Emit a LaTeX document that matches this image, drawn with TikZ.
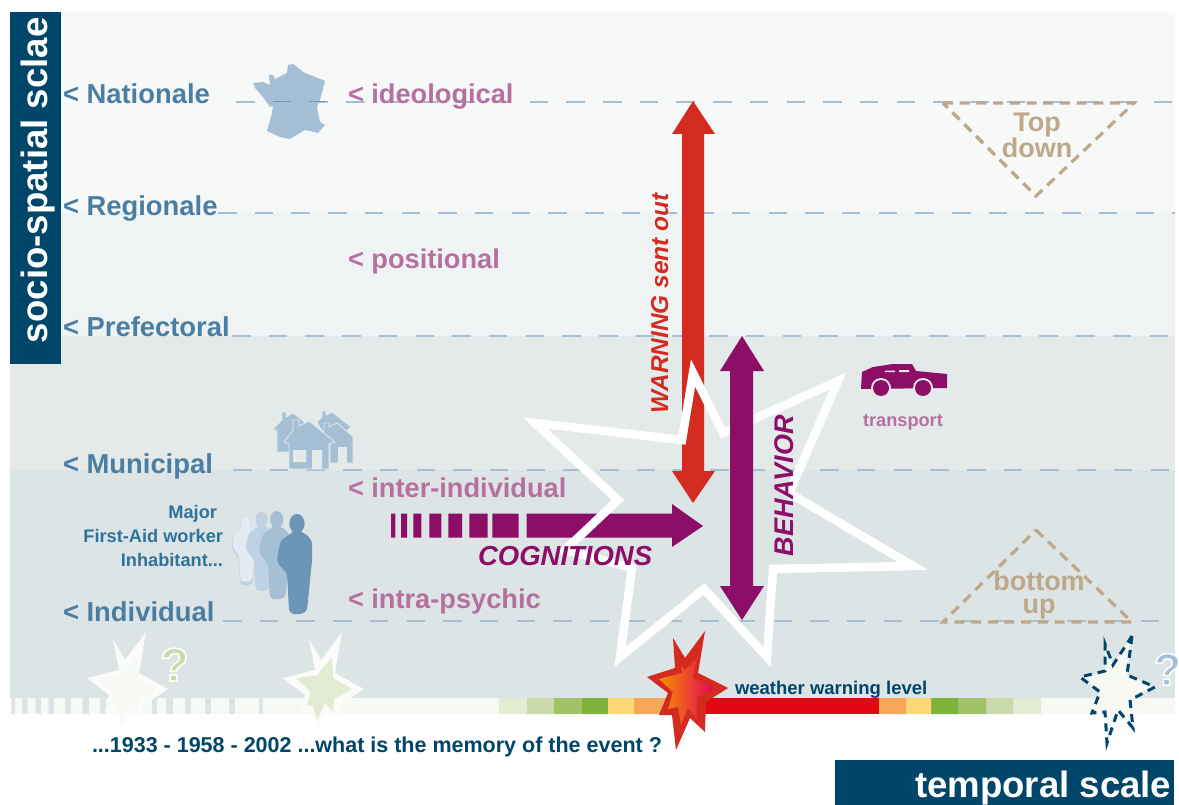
\documentclass[tikz,border=0pt]{standalone}
\usepackage{fontspec}
\setmainfont{Liberation Sans}
\definecolor{navy}{HTML}{00466B}
\definecolor{bandA}{HTML}{F7F9F8}
\definecolor{bandB}{HTML}{EFF3F3}
\definecolor{bandC}{HTML}{E4EAEA}
\definecolor{bandD}{HTML}{DDE4E6}
\definecolor{barbase}{HTML}{F7F9F4}
\definecolor{lblue}{HTML}{A5BFD5}
\definecolor{sblue}{HTML}{4A7FA3}
\definecolor{mblue}{HTML}{2E7399}
\definecolor{dperson}{HTML}{6B96B7}
\definecolor{mperson}{HTML}{BFD2E3}
\definecolor{pperson}{HTML}{E3EBF3}
\definecolor{pink}{HTML}{B5709F}
\definecolor{plum}{HTML}{8C0E67}
\definecolor{warnred}{HTML}{D32B20}
\definecolor{tan}{HTML}{BDA98A}
\definecolor{gA}{HTML}{E3EBD3}
\definecolor{gB}{HTML}{CBDAAB}
\definecolor{gC}{HTML}{A2C269}
\definecolor{gD}{HTML}{7FB23A}
\definecolor{yel}{HTML}{FDD775}
\definecolor{ora}{HTML}{F6A858}
\definecolor{redbar}{HTML}{E30613}
\definecolor{hotA}{HTML}{F39200}
\definecolor{hotC}{HTML}{E5005B}
\definecolor{burstA}{HTML}{FBFCFA}
\tikzset{
  x=1pt,y=-1pt,
  txt/.style={inner sep=0pt,outer sep=0pt,anchor=base west},
  scalelabel/.style={txt,text=sblue,font=\bfseries\fontsize{27.4}{27.4}\selectfont},
  levellabel/.style={txt,text=pink,font=\bfseries\fontsize{27.2}{27.2}\selectfont},
  rolelabel/.style={txt,anchor=base east,text=mblue,font=\bfseries\fontsize{18.2}{18.2}\selectfont},
  guide/.style={draw=lblue,line width=1.05pt,dash pattern=on 18.5pt off 18.2pt},
  tri/.style={draw=tan,line width=3.2pt,dash pattern=on 10pt off 6.7pt,line join=miter},
  trilabel/.style={txt,align=center,anchor=center,text=tan,font=\bfseries\fontsize{27}{23}\selectfont},
  burst/.style={draw=white,line width=8.5pt,line join=miter,miter limit=12},
  house/.style={fill=lblue,draw=bandC,line width=.8pt,line join=miter},
  axislabel/.style={txt,text=white,font=\bfseries\fontsize{36.6}{36.6}\selectfont},
  axisbox/.style={fill=navy},
  arrowlabel/.style={txt,font=\bfseries\itshape\fontsize{27}{27}\selectfont},
}
\newcommand{\personpath}{(-20,33.5) -- (-16,17) -- (-6,10) -- (-3.5,7) -- (3.5,7) -- (6,10) -- (10,11) -- (15,18) -- (15,37) -- (10,87) -- (5,90.5) -- (-5,90.5) -- (-8,87) -- (-10,50) -- (-19,40) -- cycle}
\newcommand{\person}[4]{%
  \begin{scope}[shift={(#1,#2)},xscale=#3,yscale=#3]
    \fill[#4,rounded corners=2.5pt] \personpath;
    \fill[#4] (0,0) ellipse[x radius=7.6,y radius=9.6];
  \end{scope}}
\newcommand{\smallburst}{(342,632) -- (335,673) -- (364,689) -- (340,705) -- (338,720) -- (327,712) -- (317,727) -- (314,713) -- (301,712) -- (305,695) -- (283,678) -- (315,670) -- (309,639) -- (321,660) -- cycle}
\newcommand{\smallcore}{(332,657) -- (333,678) -- (352,689) -- (334,699) -- (333,712) -- (325,703) -- (317,720) -- (313,706) -- (307,705) -- (311,692) -- (296,678) -- (318,675) -- (321,670) -- cycle}
\newcommand{\outlined}[2]{\special{pdf:code q 2 Tr #1 w 1 1 1 RG}#2\special{pdf:code Q}}
\begin{document}
\begin{tikzpicture}
\useasboundingbox (0,0) rectangle (1179,805);
\fill[white] (0,0) rectangle (1179,805);
% bands
\fill[bandA] (10,12) rectangle (1175,213);
\fill[bandB] (10,213) rectangle (1175,336);
\fill[bandC] (10,336) rectangle (1175,470);
\fill[bandD] (10,470) rectangle (1175,714);
% temporal bar
\fill[barbase] (10,698) rectangle (11.5,714) (15,698) rectangle (22,714) (27.5,698) rectangle (35.6,714) (41,698) rectangle (48.6,714) (54,698) rectangle (65,714) (71,698) rectangle (82.7,714) (89,698) rectangle (100,714) (106,698) rectangle (118,714) (124,698) rectangle (137,714) (143,698) rectangle (152,714) (157,698) rectangle (166,714) (173,698) rectangle (185,714) (191,698) rectangle (205,714) (211,698) rectangle (229,714) (235,698) rectangle (259,714) (262.5,698) rectangle (499,714) (1041,698) rectangle (1175,714);
\fill[gA] (499,698) rectangle (527,714) (1013,698) rectangle (1041,714);
\fill[gB] (527,698) rectangle (554,714) (986,698) rectangle (1013,714);
\fill[gC] (554,698) rectangle (582,714) (958,698) rectangle (986,714);
\fill[gD] (582,698) rectangle (608,714) (931,698) rectangle (958,714);
\fill[yel] (608,698) rectangle (634,714) (906,698) rectangle (931,714);
\fill[ora] (634,698) rectangle (670,714) (879,698) rectangle (906,714);
\fill[redbar] (670,698) rectangle (879,714);
% guides
\draw[guide] (236,102) -- (1175,102);
\draw[guide] (218,213) -- (1175,213);
\draw[guide] (232,336) -- (1175,336);
\draw[guide] (233,470) -- (1175,470);
\draw[guide] (223,621) -- (1175,621);
% France
\fill[lblue] (253,83) -- (263,82) -- (270,85) -- (269,75) -- (273,75) -- (275,79) -- (287,73) -- (288,65) -- (293,64) -- (305,73) -- (313,76) -- (325,81) -- (320,100) -- (317,107) -- (320,122) -- (325,125) -- (318,133) -- (305,130) -- (290,139) -- (280,137) -- (267,131) -- (272,113) -- (273,106) -- (270,107) -- (263,97) -- (255,88) -- cycle;
\draw[dperson,line width=1pt] (273,102) -- (291,102) (309,102) -- (325,102);
% houses
\path[house] (282,420) -- (282,412) -- (286,412) -- (286,417) -- (293,413) -- (313,429) -- (310,452) -- (277,452) -- (277,431) -- (273,429) -- cycle;
\path[house] (322,417) -- (322,411) -- (326,411) -- (326,415) -- (332,412) -- (351,427) -- (345,432) -- (330,445) -- (317,422) -- cycle;
\path[house] (324,430) -- (324,423) -- (329,423) -- (329,427) -- (337,423) -- (357,440) -- (353,438) -- (353,463) -- (330,463) -- (330,440) -- (323,434) -- cycle;
\fill[bandC] (338,447) rectangle (347,463);
\path[house] (293,430) -- (293,420) -- (299,420) -- (299,426) -- (309,421) -- (335,442) -- (329,444) -- (329,469) -- (289,469) -- (289,444) -- (284,442) -- cycle;
\fill[bandC] (293,450) rectangle (306,462) (312,450) rectangle (322,469);
% people
\person{245.7}{522}{.70}{mperson}
\person{245.7}{522}{.66}{pperson}
\person{261.7}{519.5}{.79}{mperson}
\person{276.7}{519.5}{.88}{lblue}
\person{297}{523.5}{1}{dperson}
% red arrow (below the big burst)
\fill[warnred] (693,101) -- (715,134) -- (704,134) -- (704,471) -- (715,471) -- (693,503) -- (672,471) -- (682,471) -- (682,134) -- (672,134) -- cycle;
% cognitions arrow
\fill[plum] (391,513.5) rectangle (395.3,537.5) (401,513.5) rectangle (407,537.5) (413.3,513.5) rectangle (421.3,537.5) (429.3,513.5) rectangle (441.3,537.5) (448.3,513.5) rectangle (462,537.5) (469.3,513.5) rectangle (487.7,537.5) (492.3,513.5) rectangle (518.7,537.5);
\fill[plum] (526.7,513.5) -- (672,513.5) -- (672,504) -- (703,526) -- (672,547) -- (672,537.5) -- (526.7,537.5) -- cycle;
% big burst
\path[burst] (693,373) -- (723,433) -- (838,381) -- (789,493) -- (913,566) -- (773,569) -- (767,657) -- (704,589) -- (620,657) -- (632,568) -- (565,550) -- (618,500) -- (535,423) -- (682,440) -- cycle;
% behaviour arrow
\fill[plum] (742,336) -- (764,371) -- (753,371) -- (753,586) -- (764,586) -- (742,620) -- (720,586) -- (730,586) -- (730,371) -- (720,371) -- cycle;
% triangles
\path[tri] (943,103) -- (1134,103) -- (1036,196) -- cycle;
\path[tri] (1036,530) -- (1132,622) -- (943,622) -- cycle;
% small bursts
\fill[burstA] [shift={(-196,0)}] \smallburst;
\fill[barbase] [shift={(-196,0)}] \smallcore;
\fill[burstA] \smallburst;
\fill[gA] \smallcore;
% red burst
\fill[warnred] (647,677) -- (675,668) -- (673,638) -- (685,658) -- (705,631) -- (698,673) -- (728,688) -- (706,702) -- (705,732) -- (690,718) -- (676,750) -- (672,715) -- (659,715) -- (668,693) -- cycle;
\shade[left color=hotA,middle color=redbar,right color=hotC] (659,679) -- (682,673) -- (681,666) -- (685,670) -- (697,658) -- (693,678) -- (715,688) -- (697,697) -- (697,720) -- (688,708) -- (681,725) -- (678,707) -- (668,709) -- (673,692) -- cycle;
% dashed burst
\fill[barbase] (1132,636) -- (1127,675) -- (1155,687) -- (1130,700) -- (1133,728) -- (1118,710) -- (1107,743) -- (1105,712) -- (1092,713) -- (1100,692) -- (1080,677) -- (1105,671) -- (1105,644) -- (1113,665) -- cycle;
\draw[navy,line width=3pt,dash pattern=on 8pt off 6pt,line join=miter,miter limit=12] (1132,636) -- (1127,675) -- (1155,687) -- (1130,700) -- (1133,728) -- (1118,710) -- (1107,743) -- (1105,712) -- (1092,713) -- (1100,692) -- (1080,677) -- (1105,671) -- (1105,644) -- (1113,665) -- cycle;
% axis boxes
\fill[axisbox] (10,12) rectangle (61,364);
\fill[axisbox] (835,760) rectangle (1174,805);
\node[axislabel,rotate=90] (spatial) at (47,343) {socio-spatial sclae};
\node[axislabel] (temporal) at (915,797) {temporal scale};
% scale labels
\node[scalelabel] (nat) at (63,104) {< Nationale};
\node[scalelabel] (reg) at (63,216) {< Regionale};
\node[scalelabel] (pre) at (63,337) {< Prefectoral};
\node[scalelabel] (mun) at (63,473) {< Municipal};
\node[scalelabel] (ind) at (63,621.5) {< Individual};
% level labels
\node[levellabel] (ideo) at (348,104) {< ideological};
\node[levellabel] (posi) at (348,269) {< positional};
\node[levellabel] (inter) at (348,497) {< inter-individual};
\node[levellabel] (intra) at (348,608.5) {< intra-psychic};
% roles
\node[rolelabel] (major) at (217,518) {Major};
\node[rolelabel] (aid) at (223,542) {First-Aid worker};
\node[rolelabel] (inhab) at (223,566) {Inhabitant...};
% arrow labels
\node[arrowlabel,text=warnred,rotate=90,font=\bfseries\itshape\fontsize{24.4}{24.4}\selectfont] (warn) at (668,413) {WARNING sent out};
\node[arrowlabel,text=plum,rotate=90] (beh) at (793,556) {BEHAVIOR};
\node[arrowlabel,text=plum,font=\bfseries\itshape\fontsize{27.5}{27.5}\selectfont] (cog) at (478,565) {COGNITIONS};
% triangle labels
\node[trilabel] (topdown) at (1037,135.5) {Top\\down};
\node[trilabel] (bottomup) at (1039,595) {bottom\\up};
% car
\fill[plum] (861,389) -- (862,372) -- (873,367) -- (893,364) -- (912,364) -- (916,371) -- (947,374) -- (947,388) -- cycle;
\fill[bandC] (881,388) circle (10) (923,388) circle (10);
\fill[plum] (881,388) circle (8) (923,388) circle (8);
\fill[bandC] (885,370.5) rectangle (895,372) (899,370) rectangle (909,372);
\node[txt,text=pink,font=\bfseries\fontsize{18.2}{18.2}\selectfont] (trans) at (863,426) {transport};
% bottom labels
\node[txt,text=navy,font=\bfseries\fontsize{18.5}{18.5}\selectfont] (wlevel) at (735,694) {weather warning level};
\node[txt,text=navy,font=\bfseries\fontsize{21.5}{21.5}\selectfont] (memory) at (92,752) {...1933 - 1958 - 2002 ...what is the memory of the event ?};
% question marks
\node[txt,anchor=base,text=gB,font=\bfseries\fontsize{47}{47}\selectfont] (qa) at (174.5,681) {\outlined{1.5}{?}};
\node[txt,anchor=base,text=lblue,font=\bfseries\fontsize{45}{45}\selectfont] (qb) at (1167.5,685) {\outlined{1.5}{?}};
\end{tikzpicture}
\end{document}
